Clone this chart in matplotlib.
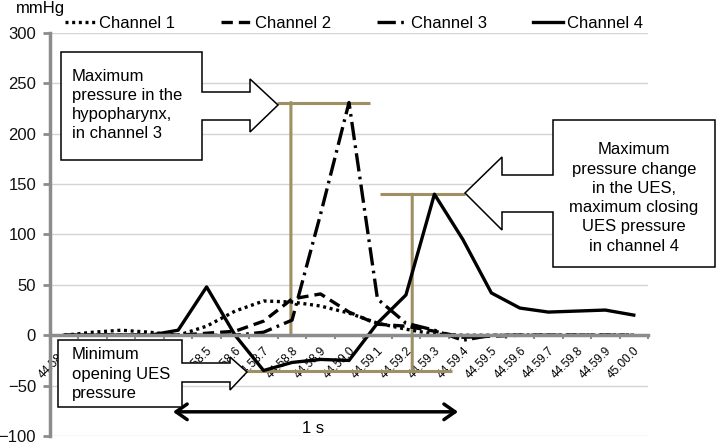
import numpy as np
import matplotlib
matplotlib.use("Agg")
import matplotlib.pyplot as plt
from matplotlib.patches import Polygon

plt.rcParams['font.family'] = ['Liberation Sans', 'DejaVu Sans']

# time stamps (mm.ss.d) for each sample
times = ["44.58.5", "44.58.5", "44.58.5", "44.58.5", "44.58.5",
         "44.58.5", "44.58.6", "44.58.7", "44.58.8", "44.58.9",
         "44.59.0", "44.59.1", "44.59.2", "44.59.3", "44.59.4",
         "44.59.5", "44.59.6", "44.59.7", "44.59.8", "44.59.9", "45.00.0"]

# pressures in mmHg
ch1 = [0, 3, 5, 3, 0, 9, 24, 34, 33, 29, 22, 12, 6, 1, 0, 0, 0, 0, 0, 0, 0]
ch2 = [0, 0, 0, 0, 0, 2, 4, 14, 36, 41, 23, 11, 9, 4, -2, -1, 0, 0, 0, 0, 0]
ch3 = [0, 0, 0, 0, 0, 0, 0, 3, 15, 120, 231, 36, 12, 5, -5, 0, 0, 0, 0, 0, 0]
ch4 = [0, 0, 0, 0, 5, 48, 0, -35, -27, -24, -25, 12, 40, 140, 95, 42, 27, 23, 24, 25, 20]

GOLD = '#9e9062'
GREY = '#8c8c8c'
W, H = 716, 444

fig = plt.figure(figsize=(W / 100, H / 100), dpi=100)
ax = fig.add_axes([50 / W, 8 / H, 598 / W, 403 / H])

x = np.arange(len(times))
ax.set_xlim(-0.5, len(times) - 0.5)
ax.set_ylim(-100, 300)

# grid and axes
ax.set_yticks(np.arange(-100, 301, 50))
ax.yaxis.grid(True, color='#d4d4d4', lw=1)
ax.set_axisbelow(True)
for s in ['top', 'right']:
    ax.spines[s].set_visible(False)
ax.spines['left'].set_color(GREY)
ax.spines['left'].set_linewidth(2.5)
ax.spines['bottom'].set_position(('data', 0))
ax.spines['bottom'].set_color(GREY)
ax.spines['bottom'].set_linewidth(2.5)
ax.tick_params(axis='y', colors=GREY, length=5, width=2, pad=5,
               labelsize=12, labelcolor='#111111')

ax.set_xticks(x)
ax.set_xticklabels(times, rotation=45, ha='right', va='top',
                   rotation_mode='anchor', fontsize=8.5)
ax.set_xticks(np.arange(-0.5, len(times), 1), minor=True)
ax.tick_params(axis='x', which='major', length=0, pad=7)
ax.tick_params(axis='x', which='minor', length=3, width=1.5, colors=GREY)

# gold markers for the measured values
ax.hlines(max(ch3), 7.48, 10.74, color=GOLD, lw=2.2, zorder=1.5)
ax.hlines(max(ch4), 11.09, 14.07, color=GOLD, lw=2.2, zorder=1.5)
ax.hlines(min(ch4), 6.38, 13.62, color=GOLD, lw=2.2, zorder=1.5)
ax.annotate('', xy=(7.96, max(ch3)), xytext=(7.96, 0),
            arrowprops=dict(arrowstyle='|-|,widthA=0.25,widthB=0.25',
                            color=GOLD, lw=2.2, shrinkA=0, shrinkB=0,
                            mutation_scale=10), zorder=1.5)
ax.annotate('', xy=(12.22, max(ch4)), xytext=(12.22, min(ch4)),
            arrowprops=dict(arrowstyle='-', color=GOLD, lw=2.2,
                            shrinkA=0, shrinkB=0), zorder=1.5)

# channels
l1, = ax.plot(x, ch1, color='black', lw=2.4, ls=(0, (0.9, 1.1)), label='Channel 1')
l2, = ax.plot(x, ch2, color='black', lw=2.4, ls=(0, (3.4, 1.8)), label='Channel 2')
l3, = ax.plot(x, ch3, color='black', lw=2.4, ls=(0, (5.5, 1.6, 0.8, 1.6)), label='Channel 3')
l4, = ax.plot(x, ch4, color='black', lw=2.4, ls='-', label='Channel 4')

# 1 s double arrow
ax.annotate('', xy=(3.82, -76), xytext=(13.83, -76),
            arrowprops=dict(arrowstyle='<->,head_length=0.5,head_width=0.35',
                            color='black', lw=2.5, shrinkA=0, shrinkB=0,
                            mutation_scale=16))
ax.text(8.74, -93, '1 s', ha='center', va='center', fontsize=12)

fig.legend(handles=[l1, l2, l3, l4], loc='center left',
           bbox_to_anchor=(65 / W, 1 - 23 / H), ncol=4, frameon=False,
           fontsize=12, handlelength=1.8, handletextpad=0.25,
           columnspacing=2.75, borderpad=0, borderaxespad=0)
fig.text(16 / W, 1 - 9 / H, 'mmHg', ha='left', va='center', fontsize=12)


def px(pts):
    return [(a / W, 1 - b / H) for a, b in pts]


def callout(pts):
    fig.add_artist(Polygon(px(pts), closed=True, transform=fig.transFigure,
                           facecolor='white', edgecolor='black', lw=1.1, zorder=2))


callout([(61, 52), (202, 52), (202, 92), (250, 92), (250, 79), (278, 105),
         (250, 132), (250, 120), (202, 120), (202, 160), (61, 160)])
fig.text(72 / W, 1 - 105 / H,
         'Maximum\npressure in the\nhypopharynx,\nin channel 3',
         ha='left', va='center', fontsize=12, linespacing=1.35, zorder=3)

callout([(553, 120), (715, 120), (715, 267), (553, 267), (553, 212), (502, 212),
         (502, 230), (465, 193), (502, 157), (502, 175), (553, 175)])
fig.text(634 / W, 1 - 198 / H,
         'Maximum\npressure change\nin the UES,\nmaximum closing\nUES pressure\nin channel 4',
         ha='center', va='center', fontsize=12, linespacing=1.35, zorder=3)

callout([(58, 340), (182, 340), (182, 363), (230, 363), (230, 357), (247, 372),
         (230, 390), (230, 382), (182, 382), (182, 407), (58, 407)])
fig.text(72 / W, 1 - 374 / H, 'Minimum\nopening UES\npressure',
         ha='left', va='center', fontsize=12, linespacing=1.35, zorder=3)

fig.savefig('out.png', dpi=100)
